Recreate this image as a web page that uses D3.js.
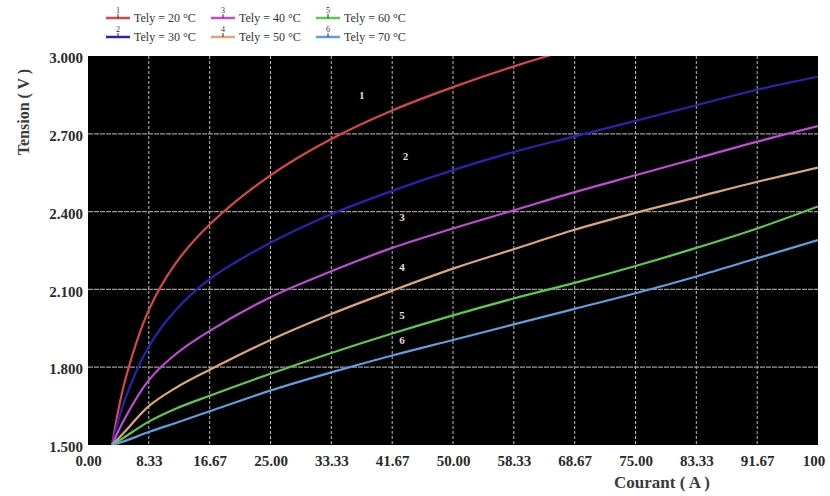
<!DOCTYPE html>
<html>
<head>
<meta charset="utf-8">
<script src="https://cdn.jsdelivr.net/npm/d3@7"></script>
<style>
  body { margin: 0; background: #fff; }
  svg text { font-family: "Liberation Serif", "DejaVu Serif", serif; }
</style>
</head>
<body>
<div id="chart"></div>
<script>
// current values (A) where the curves were sampled
const currents = [3.3, 5, 8.33, 12, 16.67, 25, 33.33, 41.67, 50, 58.33, 66.67, 75, 83.33, 91.67, 100];
const tely1 = [1.5, 1.74, 2.02, 2.2, 2.35, 2.54, 2.68, 2.79, 2.88, 2.96, 3.03, 3.09, 3.15, 3.2, 3.25];
const tely2 = [1.5, 1.67, 1.88, 2.02, 2.14, 2.28, 2.39, 2.48, 2.56, 2.63, 2.69, 2.75, 2.81, 2.87, 2.92];
const tely3 = [1.5, 1.6, 1.75, 1.85, 1.94, 2.07, 2.17, 2.26, 2.335, 2.405, 2.475, 2.54, 2.605, 2.67, 2.73];
const tely4 = [1.5, 1.55, 1.65, 1.72, 1.79, 1.905, 2.005, 2.095, 2.18, 2.255, 2.33, 2.395, 2.455, 2.515, 2.57];
const tely5 = [1.5, 1.53, 1.59, 1.64, 1.69, 1.775, 1.855, 1.93, 2.0, 2.065, 2.125, 2.19, 2.26, 2.335, 2.42];
const tely6 = [1.5, 1.515, 1.55, 1.585, 1.63, 1.71, 1.78, 1.845, 1.905, 1.965, 2.025, 2.085, 2.15, 2.22, 2.29];
const seriesNames = ['Tely = 20 °C', 'Tely = 30 °C', 'Tely = 40 °C', 'Tely = 50 °C', 'Tely = 60 °C', 'Tely = 70 °C'];
const xTicks = [0, 8.33, 16.67, 25, 33.33, 41.67, 50, 58.33, 66.67, 75, 83.33, 91.67, 100];
const xTickLabels = ['0.00', '8.33', '16.67', '25.00', '33.33', '41.67', '50.00', '58.33', '68.67', '75.00', '83.33', '91.67', '100'];
const yTicks = [1.5, 1.8, 2.1, 2.4, 2.7, 3.0];

const allSeries = [tely1, tely2, tely3, tely4, tely5, tely6];
const colors = ['#d8474a', '#2a22b0', '#c24ad6', '#dfa57a', '#5ccb4c', '#5f9ee0'];
// where the number tag sits on each curve (x in A)
const tagAt = [37.5, 43.5, 43, 43, 43, 43];
const tagDy = [-26, -26, -24, -16, -12, -9];

const width = 830, height = 496;
const margin = { top: 56, right: 12, bottom: 51, left: 88 };
const w = width - margin.left - margin.right;
const h = height - margin.top - margin.bottom;

const svg = d3.select('#chart').append('svg')
  .attr('width', width)
  .attr('height', height);

const x = d3.scaleLinear().domain([0, 100]).range([0, w]);
const y = d3.scaleLinear().domain([1.5, 3.0]).range([h, 0]);

const g = svg.append('g')
  .attr('transform', `translate(${margin.left}, ${margin.top})`);

g.append('rect')
  .attr('width', w)
  .attr('height', h)
  .attr('fill', '#000');

svg.append('defs').append('clipPath').attr('id', 'plot')
  .append('rect').attr('width', w).attr('height', h);

// grid
g.append('g')
  .selectAll('line')
  .data(xTicks.slice(1, -1))
  .join('line')
  .attr('x1', d => x(d)).attr('x2', d => x(d))
  .attr('y1', 0).attr('y2', h)
  .attr('stroke', '#bdbdbd')
  .attr('stroke-width', 1)
  .attr('stroke-dasharray', '3,2');

g.append('g')
  .selectAll('line')
  .data(yTicks.slice(1, -1))
  .join('line')
  .attr('x1', 0).attr('x2', w)
  .attr('y1', d => y(d)).attr('y2', d => y(d))
  .attr('stroke', '#9a9a9a')
  .attr('stroke-width', 1.2)
  .attr('stroke-dasharray', '5,1');

// curves
const line = d3.line()
  .x((d, i) => x(currents[i]))
  .y(d => y(d))
  .curve(d3.curveCatmullRom.alpha(0.5));

g.append('g')
  .attr('clip-path', 'url(#plot)')
  .selectAll('path')
  .data(allSeries)
  .join('path')
  .attr('d', d => line(d))
  .attr('fill', 'none')
  .attr('stroke', (d, i) => colors[i])
  .attr('stroke-width', 2.2);

// number tags on curves
const interp = (s, v) => {
  const i = d3.bisectLeft(currents, v);
  const t = (v - currents[i - 1]) / (currents[i] - currents[i - 1]);
  return s[i - 1] + t * (s[i] - s[i - 1]);
};
g.append('g')
  .selectAll('text')
  .data(allSeries)
  .join('text')
  .attr('x', (d, i) => x(tagAt[i]))
  .attr('y', (d, i) => y(interp(d, tagAt[i])) + tagDy[i])
  .attr('fill', '#f0d8d8')
  .attr('font-size', 11)
  .attr('font-weight', 'bold')
  .attr('text-anchor', 'middle')
  .text((d, i) => i + 1);

// axes
const xAxis = g.append('g')
  .attr('transform', `translate(0, ${h})`)
  .call(d3.axisBottom(x).tickValues(xTicks).tickFormat((d, i) => xTickLabels[i]).tickSize(0).tickPadding(10));
const yAxis = g.append('g')
  .call(d3.axisLeft(y).tickValues(yTicks).tickFormat(d3.format('.3f')).tickSize(0).tickPadding(5));
[xAxis, yAxis].forEach(a => {
  a.select('.domain').remove();
  a.selectAll('text')
    .attr('font-family', '"Liberation Serif", serif')
    .attr('font-size', 15)
    .attr('font-weight', 'bold')
    .attr('fill', '#2a2a2a');
});
yAxis.selectAll('text').attr('dy', '0.45em');
xAxis.selectAll('text').filter((d, i) => i === xTicks.length - 1).attr('dx', '-0.3em');

svg.append('text')
  .attr('x', 662)
  .attr('y', 488)
  .attr('text-anchor', 'middle')
  .attr('font-size', 17)
  .attr('font-weight', 'bold')
  .attr('fill', '#3a3a3a')
  .text('Courant ( A )');

svg.append('text')
  .attr('transform', 'translate(29, 112) rotate(-90)')
  .attr('text-anchor', 'middle')
  .attr('font-size', 16)
  .attr('font-weight', 'bold')
  .attr('fill', '#3a3a3a')
  .text('Tension ( V )');

// legend: 3 columns x 2 rows, column-major
const legend = svg.append('g');
const colX = [106, 211, 316];
const rowY = [18, 37];
const item = legend.selectAll('g')
  .data(seriesNames)
  .join('g')
  .attr('transform', (d, i) => `translate(${colX[Math.floor(i / 2)]}, ${rowY[i % 2]})`);
item.append('line')
  .attr('x1', 0).attr('x2', 24)
  .attr('y1', 0).attr('y2', 0)
  .attr('stroke', (d, i) => colors[i])
  .attr('stroke-width', 2.5);
item.append('line')
  .attr('x1', 12).attr('x2', 12)
  .attr('y1', -4).attr('y2', 0)
  .attr('stroke', '#333')
  .attr('stroke-width', 1);
item.append('text')
  .attr('x', 12).attr('y', -5)
  .attr('text-anchor', 'middle')
  .attr('font-size', 8)
  .attr('fill', '#333')
  .text((d, i) => i + 1);
item.append('text')
  .attr('x', 28).attr('y', 4)
  .attr('font-size', 12)
  .attr('fill', '#333')
  .text(d => d);
</script>
</body>
</html>
